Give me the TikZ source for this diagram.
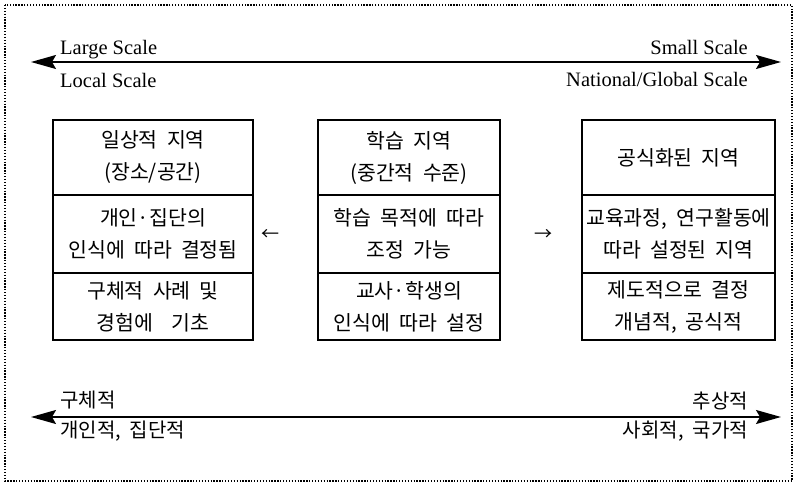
\documentclass[tikz,border=0pt]{standalone}
\usepackage{fontspec}
\setmainfont{Liberation Serif}
\newfontfamily\kr[WordSpace=2]{Noto Sans CJK KR}
\usetikzlibrary{arrows.meta}
\begin{document}
\begin{tikzpicture}[x=1pt,y=-1pt,
  frame/.style={line width=1.3pt, dash pattern=on 1.3pt off 1.6pt},
  bigarrow/.style={line width=1.5pt, {Stealth[length=25pt,width=14pt,inset=4pt]}-{Stealth[length=25pt,width=14pt,inset=4pt]}},
  lbl/.style={inner sep=0pt, font=\fontsize{20.5}{24}\selectfont},
  klbl/.style={inner sep=0pt, font=\kr\fontsize{20}{24}\selectfont},
  sec/.style={draw, line width=1.2pt, inner sep=0pt, align=center, font=\kr\fontsize{20.5}{32}\selectfont},
  secl/.style={sec, minimum width=200pt},
  secm/.style={sec, minimum width=182pt},
  secr/.style={sec, minimum width=193pt},
  htop/.style={minimum height=75pt},
  hmid/.style={minimum height=78pt},
  hbot/.style={minimum height=67pt},
  dir/.style={inner sep=0pt, font=\kr\fontsize{18}{20}\selectfont}
]
\useasboundingbox (0,0) rectangle (797,486);
\draw[frame] (5,5) rectangle (792,481);

% top scale arrow
\coordinate (tl) at (31,62);
\coordinate (tr) at (781,62);
\draw[bigarrow] (tl) -- (tr);
\node[lbl, anchor=base west] (large) at (60,55) {Large Scale};
\node[lbl, anchor=base west] (local) at (60,88) {Local Scale};
\node[lbl, anchor=base east] (small) at (748,55) {Small Scale};
\node[lbl, anchor=base east] (natl) at (748,87) {National/Global Scale};

% left box
\node[secl, htop] (l1) at (153,157.5) {일상적 지역\\(장소/공간)};
\node[secl, hmid] (l2) at (153,234) {개인·집단의\\인식에 따라 결정됨};
\node[secl, hbot] (l3) at (153,306.5) {구체적 사례 및\\경험에~~기초};

% middle box
\node[secm, htop] (m1) at (409,157.5) {학습 지역\\(중간적 수준)};
\node[secm, hmid] (m2) at (409,234) {학습 목적에 따라\\조정 가능};
\node[secm, hbot] (m3) at (409,306.5) {교사·학생의\\인식에 따라 설정};

% right box
\node[secr, htop] (r1) at (678.5,157.5) {공식화된 지역};
\node[secr, hmid] (r2) at (678.5,234) {교육과정, 연구활동에\\따라 설정된 지역};
\node[secr, hbot] (r3) at (678.5,306.5) {제도적으로 결정\\개념적, 공식적};

% direction marks
\node[dir] (la) at (270,235) {←};
\node[dir] (ra) at (543,235) {→};

% bottom arrow
\coordinate (bl) at (31,417);
\coordinate (br) at (781,417);
\draw[bigarrow] (bl) -- (br);
\node[klbl, anchor=west] (conc) at (60,400) {구체적};
\node[klbl, anchor=west] (indiv) at (60,431) {개인적, 집단적};
\node[klbl, anchor=east] (abst) at (748,401) {추상적};
\node[klbl, anchor=east] (soc) at (748,431) {사회적, 국가적};
\end{tikzpicture}
\end{document}
